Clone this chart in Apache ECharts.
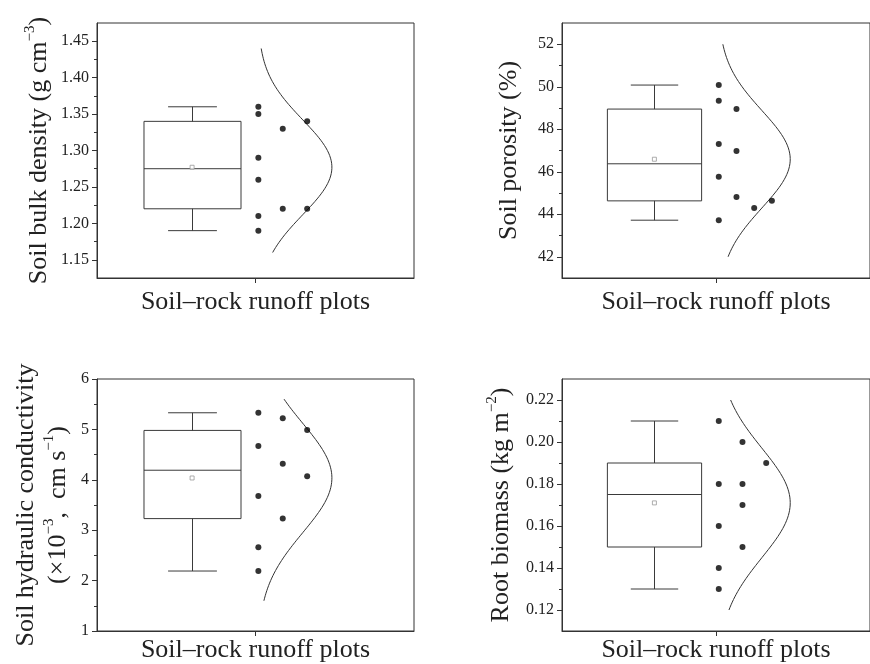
<!DOCTYPE html>
<html>
<head>
<meta charset="utf-8">
<script src="https://cdn.jsdelivr.net/npm/echarts@6/dist/echarts.min.js"></script>
<style>
html,body{margin:0;padding:0;background:#fff;}
#c{width:870px;height:664px;}
</style>
</head>
<body>
<div id="c"></div>
<script>
// ---------------- DATA ----------------
const categoryName = 'Soil–rock runoff plots';

// Panel 1: soil bulk density
const bulkValues = [1.36, 1.35, 1.29, 1.26, 1.21, 1.19, 1.33, 1.22, 1.34, 1.22];
const bulkColumns = [0, 0, 0, 0, 0, 0, 1, 1, 2, 2];
const bulkBox = [1.19, 1.22, 1.275, 1.34, 1.36]; // min, Q1, median, Q3, max
const bulkCurveRange = [1.16, 1.44];
const bulkTicks = [1.15, 1.20, 1.25, 1.30, 1.35, 1.40, 1.45];
const bulkMinorTicks = [1.175, 1.225, 1.275, 1.325, 1.375, 1.425];

// Panel 2: soil porosity
const porosityValues = [50.08, 49.34, 47.31, 45.77, 43.72, 48.95, 46.98, 44.81, 44.30, 44.63];
const porosityColumns = [0, 0, 0, 0, 0, 1, 1, 1, 2, 3];
const porosityBox = [43.72, 44.63, 46.375, 48.95, 50.08];
const porosityCurveRange = [42, 52];
const porosityTicks = [42, 44, 46, 48, 50, 52];
const porosityMinorTicks = [43, 45, 47, 49, 51];

// Panel 3: soil hydraulic conductivity
const hydraulicValues = [5.33, 4.67, 3.68, 2.66, 2.19, 5.22, 4.32, 3.23, 4.99, 4.07];
const hydraulicColumns = [0, 0, 0, 0, 0, 1, 1, 1, 2, 2];
const hydraulicBox = [2.19, 3.23, 4.19, 4.98, 5.33];
const hydraulicCurveRange = [1.6, 5.6];
const hydraulicTicks = [1, 2, 3, 4, 5, 6];
const hydraulicMinorTicks = [1.5, 2.5, 3.5, 4.5, 5.5];

// Panel 4: root biomass
const rootValues = [0.21, 0.18, 0.16, 0.14, 0.13, 0.20, 0.18, 0.17, 0.15, 0.19];
const rootColumns = [0, 0, 0, 0, 0, 1, 1, 1, 1, 2];
const rootBox = [0.13, 0.15, 0.175, 0.19, 0.21];
const rootCurveRange = [0.12, 0.22];
const rootTicks = [0.12, 0.14, 0.16, 0.18, 0.20, 0.22];
const rootMinorTicks = [0.13, 0.15, 0.17, 0.19, 0.21];

// ---------------- STYLE / LAYOUT ----------------
const FONT = "'Liberation Serif','Times New Roman',serif";
const INK = '#333';
const panels = [
  { values: bulkValues, cols: bulkColumns, box: bulkBox, curve: bulkCurveRange, ticks: bulkTicks, minor: bulkMinorTicks,
    min: 1.125, max: 1.475, dec: 2, colGap: 7.7,
    grid: { left: 97, top: 23, width: 317, height: 255 }, nameGap: 42, xNameGap: 11,
    name: '{n|Soil bulk density (g cm}{s|−3}{n|)}' },
  { values: porosityValues, cols: porosityColumns, box: porosityBox, curve: porosityCurveRange, ticks: porosityTicks, minor: porosityMinorTicks,
    min: 41, max: 53, dec: 0, colGap: 5.75,
    grid: { left: 562, top: 23, width: 317, height: 255 }, nameGap: 37, xNameGap: 11,
    name: '{n|Soil porosity (%)}' },
  { values: hydraulicValues, cols: hydraulicColumns, box: hydraulicBox, curve: hydraulicCurveRange, ticks: hydraulicTicks, minor: hydraulicMinorTicks,
    min: 1, max: 6, dec: 0, colGap: 7.7,
    grid: { left: 97, top: 379, width: 317, height: 255 }, nameGap: 23, xNameGap: 6,
    name: '{n|Soil hydraulic conductivity}\n{n|(×10}{s|−3}{n|,  cm s}{s|−1}{n|)}' },
  { values: rootValues, cols: rootColumns, box: rootBox, curve: rootCurveRange, ticks: rootTicks, minor: rootMinorTicks,
    min: 0.11, max: 0.23, dec: 2, colGap: 7.7,
    grid: { left: 562, top: 379, width: 317, height: 255 }, nameGap: 45, xNameGap: 6,
    name: '{n|Root biomass (kg m}{s|−2}{n|)}' }
];

// x positions in percent of the plot width (layout, not data)
const BOX_X = 30.0, BOX_HALF = 15.3, CAP_HALF = 7.7;
const DOT_X0 = 50.9;
const CURVE_BASE = 50.8, CURVE_AMP = 23.3;

function mean(a) { return a.reduce((s, v) => s + v, 0) / a.length; }
function sd(a) { const m = mean(a); return Math.sqrt(a.reduce((s, v) => s + (v - m) * (v - m), 0) / (a.length - 1)); }

const grids = [], xAxes = [], yAxes = [], series = [];
panels.forEach((p, i) => {
  grids.push(Object.assign({ show: true, borderColor: INK, borderWidth: 1, backgroundColor: 'transparent' }, p.grid));
  xAxes.push({
    type: 'value', gridIndex: i, min: 0, max: 100,
    name: categoryName, nameLocation: 'middle', nameGap: p.xNameGap,
    nameTextStyle: { fontFamily: FONT, fontSize: 26, color: '#222' },
    axisLine: { show: true, lineStyle: { color: INK, width: 1 } },
    axisTick: { show: true, inside: false, length: 5, customValues: [50], lineStyle: { color: INK } },
    axisLabel: { show: false },
    splitLine: { show: false }
  });
  // major axis
  yAxes.push({
    type: 'value', gridIndex: i, min: p.min, max: p.max, position: 'left',
    name: p.name, nameLocation: 'middle', nameGap: p.nameGap, nameRotate: 90,
    nameTextStyle: {
      color: '#222', fontFamily: FONT, fontSize: 26, lineHeight: 32,
      rich: {
        n: { fontFamily: FONT, fontSize: 26, lineHeight: 32, color: '#222' },
        s: { fontFamily: FONT, fontSize: 15, lineHeight: 16, color: '#222', verticalAlign: 'top' }
      }
    },
    axisLine: { show: true, lineStyle: { color: INK, width: 1 } },
    axisTick: { show: true, inside: false, length: 5, customValues: p.ticks, lineStyle: { color: INK } },
    axisLabel: { show: true, margin: 8, customValues: p.ticks, fontFamily: FONT, fontSize: 16, color: '#222',
      formatter: v => Number(v).toFixed(p.dec) },
    splitLine: { show: false }
  });
  // minor ticks axis
  yAxes.push({
    type: 'value', gridIndex: i, min: p.min, max: p.max, position: 'left', offset: 0,
    axisLine: { show: false },
    axisTick: { show: true, inside: false, length: 3, customValues: p.minor, lineStyle: { color: INK } },
    axisLabel: { show: false },
    splitLine: { show: false }
  });
  const yMajor = yAxes.length - 2;

  // box & whiskers
  series.push({
    type: 'custom', xAxisIndex: i, yAxisIndex: yMajor, silent: true, z: 3,
    data: [[BOX_X].concat(p.box)],
    encode: { x: 0, y: [1, 2, 3, 4, 5] },
    renderItem: function (params, api) {
      const cx = api.value(0);
      const pMin = api.coord([cx, api.value(1)]);
      const pQ1 = api.coord([cx, api.value(2)]);
      const pMed = api.coord([cx, api.value(3)]);
      const pQ3 = api.coord([cx, api.value(4)]);
      const pMax = api.coord([cx, api.value(5)]);
      const hw = api.size([BOX_HALF, 0])[0];
      const cw = api.size([CAP_HALF, 0])[0];
      const x = Math.round(pMed[0]) + 0.5;
      const st = { stroke: '#3a3a3a', lineWidth: 1, fill: null };
      const ln = (x1, y1, x2, y2) => ({ type: 'line', shape: { x1, y1, x2, y2 }, style: st });
      return {
        type: 'group', children: [
          { type: 'rect', shape: { x: x - hw, y: pQ3[1], width: 2 * hw, height: pQ1[1] - pQ3[1] }, style: { stroke: '#3a3a3a', lineWidth: 1, fill: '#fff' } },
          ln(x - hw, pMed[1], x + hw, pMed[1]),
          ln(x, pQ3[1], x, pMax[1]),
          ln(x, pQ1[1], x, pMin[1]),
          ln(x - cw, pMax[1], x + cw, pMax[1]),
          ln(x - cw, pMin[1], x + cw, pMin[1])
        ]
      };
    }
  });
  // mean marker
  series.push({
    type: 'scatter', xAxisIndex: i, yAxisIndex: yMajor, silent: true, z: 4,
    symbol: 'rect', symbolSize: 4,
    itemStyle: { color: '#fff', borderColor: '#999', borderWidth: 1 },
    data: [[BOX_X, mean(p.values)]]
  });
  // data points
  series.push({
    type: 'scatter', xAxisIndex: i, yAxisIndex: yMajor, silent: true, z: 5,
    symbol: 'circle', symbolSize: 6, itemStyle: { color: '#000' },
    data: p.values.map((v, k) => [DOT_X0 + p.cols[k] * p.colGap, v])
  });
  // normal distribution curve from the data's mean and SD
  const m = mean(p.values), s = sd(p.values);
  const N = 80, curve = [];
  for (let k = 0; k <= N; k++) {
    const y = p.curve[0] + (p.curve[1] - p.curve[0]) * k / N;
    const z = (y - m) / s;
    curve.push([CURVE_BASE + CURVE_AMP * Math.exp(-0.5 * z * z), y]);
  }
  series.push({
    type: 'line', xAxisIndex: i, yAxisIndex: yMajor, silent: true, z: 2,
    showSymbol: false, symbol: 'none', smooth: false,
    lineStyle: { color: '#333', width: 1 },
    data: curve
  });
});

const chart = echarts.init(document.getElementById('c'), null, { renderer: 'canvas' });
chart.setOption({
  backgroundColor: '#fff',
  animation: false,
  grid: grids,
  xAxis: xAxes,
  yAxis: yAxes,
  series: series
});
</script>
</body>
</html>
